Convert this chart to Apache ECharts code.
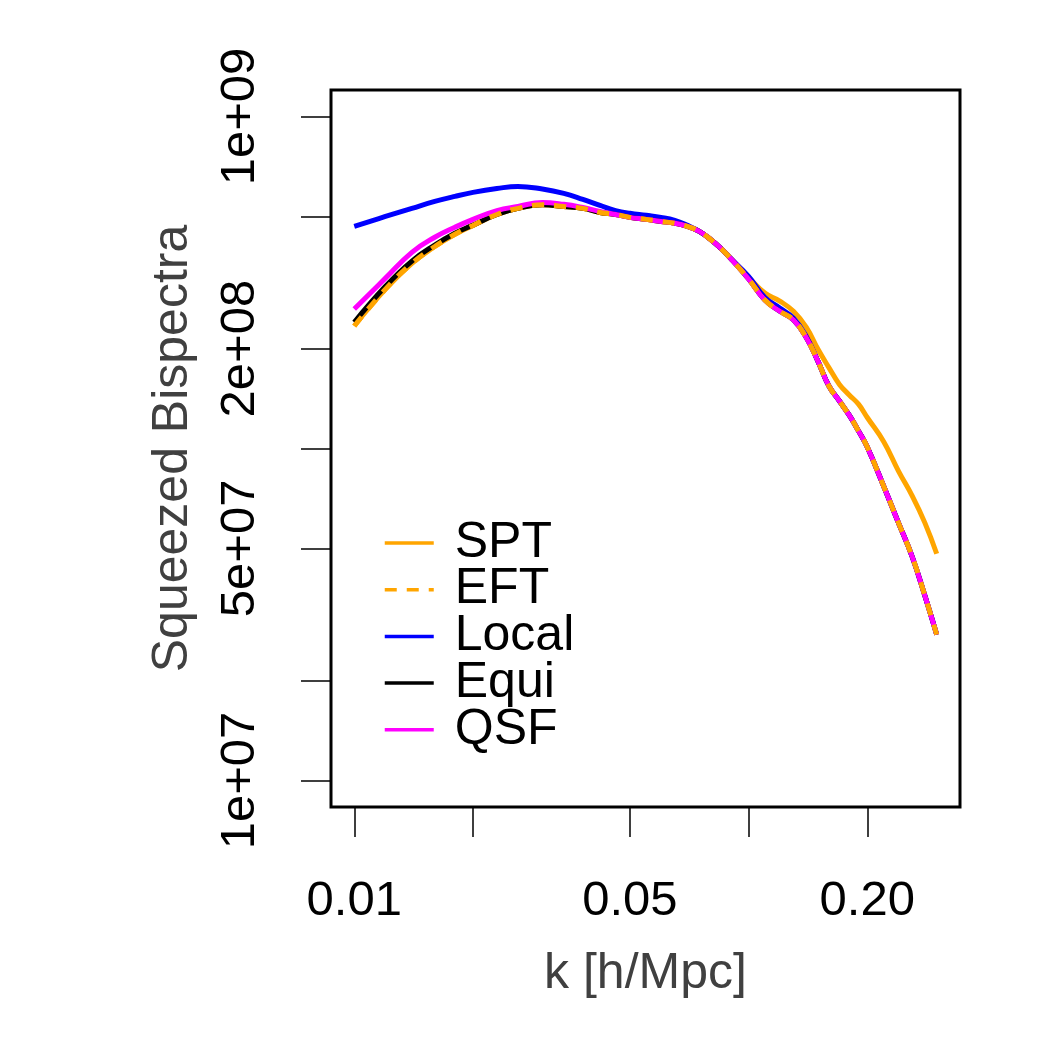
<!DOCTYPE html>
<html>
<head>
<meta charset="utf-8">
<title>Squeezed Bispectra</title>
<script src="https://cdn.jsdelivr.net/npm/echarts@6/dist/echarts.min.js"></script>
<style>
  html, body { margin: 0; padding: 0; background: #fff; }
  #main { width: 1050px; height: 1050px; }
</style>
</head>
<body>
<div id="main"></div>
<script>
// k in h/Mpc, bispectra (log-log plot)
const kValues = [0.010, 0.012, 0.014, 0.016, 0.018, 0.020, 0.023, 0.026, 0.030, 0.034,
  0.038, 0.042, 0.046, 0.050, 0.055, 0.060, 0.065, 0.070, 0.075, 0.080,
  0.085, 0.090, 0.100, 0.110, 0.120, 0.130, 0.140, 0.150, 0.160, 0.170,
  0.180, 0.190, 0.200, 0.220, 0.240, 0.260, 0.280, 0.300];

const sptValues = [2.34e8, 3.02e8, 3.61e8, 4.06e8, 4.42e8, 4.70e8, 5.07e8, 5.29e8, 5.42e8, 5.36e8,
  5.29e8, 5.14e8, 5.07e8, 4.97e8, 4.90e8, 4.83e8, 4.77e8, 4.67e8, 4.51e8, 4.27e8,
  4.01e8, 3.74e8, 3.28e8, 2.94e8, 2.78e8, 2.59e8, 2.32e8, 1.99e8, 1.75e8, 1.56e8,
  1.45e8, 1.36e8, 1.24e8, 1.05e8, 8.55e7, 7.20e7, 5.97e7, 4.82e7];

const eftValues = [2.34e8, 3.02e8, 3.61e8, 4.06e8, 4.42e8, 4.70e8, 5.07e8, 5.29e8, 5.42e8, 5.36e8,
  5.29e8, 5.14e8, 5.07e8, 4.97e8, 4.90e8, 4.83e8, 4.77e8, 4.67e8, 4.51e8, 4.27e8,
  4.01e8, 3.74e8, 3.24e8, 2.80e8, 2.59e8, 2.44e8, 2.16e8, 1.83e8, 1.54e8, 1.39e8,
  1.26e8, 1.13e8, 1.01e8, 7.71e7, 5.97e7, 4.72e7, 3.60e7, 2.75e7];

const localValues = [4.67e8, 5.00e8, 5.29e8, 5.55e8, 5.75e8, 5.91e8, 6.07e8, 6.16e8, 6.05e8, 5.87e8,
  5.63e8, 5.40e8, 5.21e8, 5.11e8, 5.04e8, 4.97e8, 4.87e8, 4.70e8, 4.51e8, 4.27e8,
  4.01e8, 3.74e8, 3.30e8, 2.85e8, 2.65e8, 2.47e8, 2.18e8, 1.83e8, 1.54e8, 1.39e8,
  1.26e8, 1.13e8, 1.01e8, 7.71e7, 5.97e7, 4.72e7, 3.60e7, 2.75e7];

const equiValues = [2.40e8, 3.08e8, 3.67e8, 4.10e8, 4.45e8, 4.71e8, 5.07e8, 5.29e8, 5.42e8, 5.36e8,
  5.29e8, 5.14e8, 5.07e8, 4.97e8, 4.90e8, 4.83e8, 4.77e8, 4.67e8, 4.51e8, 4.27e8,
  4.01e8, 3.74e8, 3.24e8, 2.80e8, 2.59e8, 2.44e8, 2.16e8, 1.83e8, 1.54e8, 1.39e8,
  1.26e8, 1.13e8, 1.01e8, 7.71e7, 5.97e7, 4.72e7, 3.60e7, 2.75e7];

const qsfValues = [2.63e8, 3.26e8, 3.90e8, 4.33e8, 4.64e8, 4.90e8, 5.21e8, 5.36e8, 5.51e8, 5.44e8,
  5.32e8, 5.18e8, 5.07e8, 4.97e8, 4.90e8, 4.83e8, 4.77e8, 4.67e8, 4.51e8, 4.27e8,
  4.01e8, 3.74e8, 3.24e8, 2.80e8, 2.59e8, 2.44e8, 2.16e8, 1.83e8, 1.54e8, 1.39e8,
  1.26e8, 1.13e8, 1.01e8, 7.71e7, 5.97e7, 4.72e7, 3.60e7, 2.75e7];

const xTickValues = [0.01, 0.02, 0.05, 0.1, 0.2];
const xLabelValues = [0.01, 0.05, 0.2];
const xLabelText = ["0.01", "0.05", "0.20"];
const yTickValues = [1e7, 2e7, 5e7, 1e8, 2e8, 5e8, 1e9];
const yLabelValues = [1e7, 5e7, 2e8, 1e9];
const yLabelText = ["1e+07", "5e+07", "2e+08", "1e+09"];

const FONT = "'Liberation Sans', Arial, Helvetica, sans-serif";

function toPairs(vals) {
  return kValues.map((k, i) => [Math.log10(k), Math.log10(vals[i])]);
}
function labelFor(v, values, texts) {
  let best = 0;
  values.forEach((x, i) => {
    if (Math.abs(Math.log10(x) - v) < Math.abs(Math.log10(values[best]) - v)) best = i;
  });
  return texts[best];
}

const chart = echarts.init(document.getElementById("main"));

const lineBase = { type: "line", showSymbol: false, symbol: "none", smooth: 0.45 };

const option = {
  animation: false,
  backgroundColor: "#fff",
  grid: {
    left: 331, top: 90, right: 90, bottom: 243,
    show: true, borderColor: "#000", borderWidth: 3, backgroundColor: "transparent"
  },
  legend: {
    orient: "vertical",
    left: 383,
    top: 518,
    padding: 0,
    itemWidth: 49,
    itemHeight: 46,
    itemGap: -3.3,
    data: ["SPT", "EFT", "Local", "Equi", "QSF"],
    // hide the symbol circle, keep only the line
    itemStyle: { opacity: 0, borderWidth: 0 },
    lineStyle: { width: 3.5 },
    textStyle: {
      fontFamily: FONT, fontSize: 50, color: "#000", lineHeight: 46,
      padding: [0, 0, 0, 16]
    }
  },
  xAxis: {
    type: "value",
    min: -2.059,
    max: -0.4638,
    name: "k [h/Mpc]",
    nameLocation: "middle",
    nameGap: 142,
    nameTextStyle: { fontFamily: FONT, fontSize: 50, color: "#404040" },
    axisLine: { show: false },
    splitLine: { show: false },
    axisTick: {
      show: true, inside: false, length: 30,
      lineStyle: { color: "#000", width: 1.5 },
      customValues: xTickValues.map(v => Math.log10(v))
    },
    axisLabel: {
      fontFamily: FONT, fontSize: 49, color: "#000", margin: 70,
      customValues: xLabelValues.map(v => Math.log10(v)),
      formatter: v => labelFor(v, xLabelValues, xLabelText)
    }
  },
  yAxis: {
    type: "value",
    min: 6.92,
    max: 9.08,
    name: "Squeezed Bispectra",
    nameLocation: "middle",
    nameGap: 133,
    nameTextStyle: { fontFamily: FONT, fontSize: 50, color: "#404040" },
    axisLine: { show: false },
    splitLine: { show: false },
    axisTick: {
      show: true, inside: false, length: 30,
      lineStyle: { color: "#000", width: 1.5 },
      customValues: yTickValues.map(v => Math.log10(v))
    },
    axisLabel: {
      fontFamily: FONT, fontSize: 49, color: "#000", margin: 66, rotate: 90,
      customValues: yLabelValues.map(v => Math.log10(v)),
      formatter: v => labelFor(v, yLabelValues, yLabelText)
    }
  },
  series: [
    Object.assign({}, lineBase, {
      name: "SPT", data: toPairs(sptValues),
      itemStyle: { color: "#FFA500" }, lineStyle: { color: "#FFA500", width: 5 }
    }),
    Object.assign({}, lineBase, {
      name: "Local", data: toPairs(localValues),
      itemStyle: { color: "#0000FF" }, lineStyle: { color: "#0000FF", width: 5 }
    }),
    Object.assign({}, lineBase, {
      name: "Equi", data: toPairs(equiValues),
      itemStyle: { color: "#000000" }, lineStyle: { color: "#000000", width: 5 }
    }),
    Object.assign({}, lineBase, {
      name: "QSF", data: toPairs(qsfValues),
      itemStyle: { color: "#FF00FF" }, lineStyle: { color: "#FF00FF", width: 5 }
    }),
    Object.assign({}, lineBase, {
      name: "EFT", data: toPairs(eftValues),
      itemStyle: { color: "#FFA500" }, lineStyle: { color: "#FFA500", width: 5, type: [12, 10] }
    })
  ]
};

chart.setOption(option);
</script>
</body>
</html>
